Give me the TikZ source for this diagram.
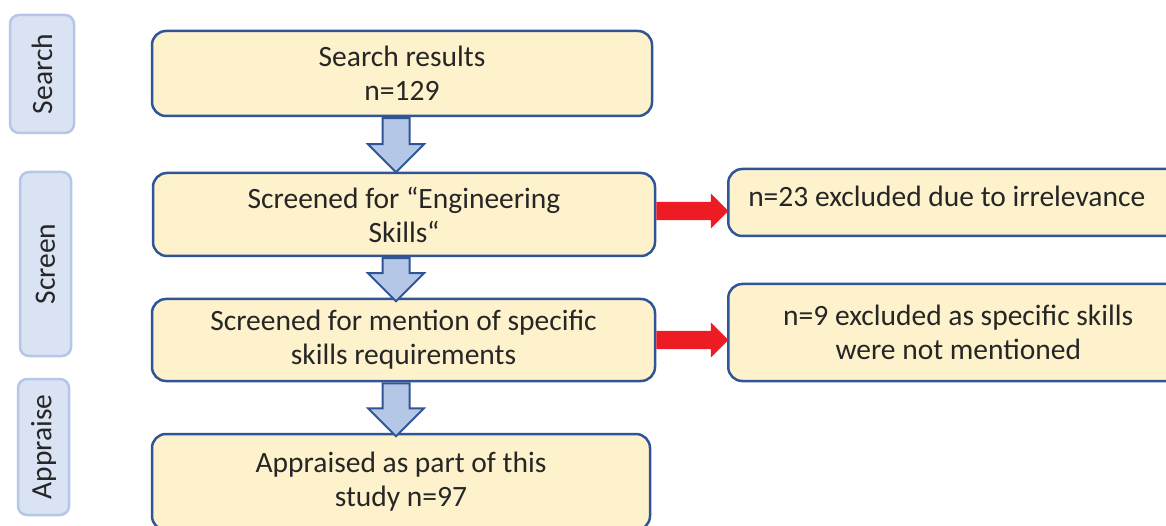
\documentclass[tikz,border=0pt]{standalone}
\usepackage{fontspec}
\setmainfont{Carlito}
\usetikzlibrary{shapes.arrows}
\definecolor{boxfill}{HTML}{FDF2CC}
\definecolor{boxline}{HTML}{2F5597}
\definecolor{phasefill}{HTML}{DAE3F3}
\definecolor{phaseline}{HTML}{B4C7E7}
\definecolor{exclred}{HTML}{ED1C24}
\definecolor{textgray}{HTML}{262626}
\tikzset{
    every node/.style={font=\fontsize{29.5}{34}\selectfont, text=textgray,
    	inner sep=0pt}
}
\tikzset{
    stagebox/.style={draw=boxline, fill=boxfill, line width=2.5pt,
    	rounded corners=14pt, align=center},
    exclbox/.style={stagebox, text width=420pt, inner xsep=20pt,
    	minimum height=67pt, anchor=west, align=flush left},
    phasebox/.style={draw=phaseline, fill=phasefill, line width=2.5pt,
    	rounded corners=9pt, rotate=90}
}
\tikzset{
	downarrow/.style={single arrow, shape border rotate=270, draw=boxline,
		fill=phaseline, line width=2pt, inner sep=12.5pt,
		single arrow head extend=14.5pt, anchor=tail},
	redarrow/.style={single arrow, fill=exclred, inner sep=9pt,
		single arrow head extend=8.5pt, anchor=tail}
}

\begin{document}
\begin{tikzpicture}[x=1pt, y=-1pt]
	\clip (0, 0) rectangle (1166, 526);
	\node (ph1) [phasebox, minimum width=118pt, minimum height=64pt] at (42, 74) {Search};
	\node (ph2) [phasebox, minimum width=184pt, minimum height=51pt] at (45.5, 264) {Screen};
	\node (ph3) [phasebox, minimum width=136pt, minimum height=51pt] at (43.5, 447) {Appraise};
	
	\node (results) [stagebox, minimum width=500pt, minimum height=85pt] at (402, 73.5) {Search results\\n=129};
	\node (engskills) [stagebox, minimum width=502pt, minimum height=83pt] at (404, 214.5) {Screened for “Engineering\\Skills“};
	\node (specific) [stagebox, minimum width=503pt, minimum height=82pt] at (403.5, 340) {Screened for mention of specific\\skills requirements};
	\node (appraised) [stagebox, minimum width=498pt, minimum height=96pt] at (401, 482) {Appraised as part of this\\study n=97};
	
	\node (irrel) [exclbox, text depth=12pt] at (727, 202.5) {n=23 excluded due to irrelevance};
	\node (notment) [exclbox, align=flush center, minimum height=97pt] at (727, 332.5) {n=9 excluded as specific skills\\were not mentioned};
	
	\node (d1) [downarrow, minimum height=54pt] at ([xshift=-6pt]results.south) {};
	\node (d2) [downarrow, minimum height=43pt] at ([xshift=-8pt]engskills.south) {};
	\node (d3) [downarrow, minimum height=53pt] at ([xshift=-7.5pt]specific.south) {};
	
	\node (r1) [redarrow, minimum height=72pt] at ([yshift=3.5pt]engskills.east) {};
	\node (r2) [redarrow, minimum height=72pt] at (specific.east) {};
\end{tikzpicture}
\end{document}
